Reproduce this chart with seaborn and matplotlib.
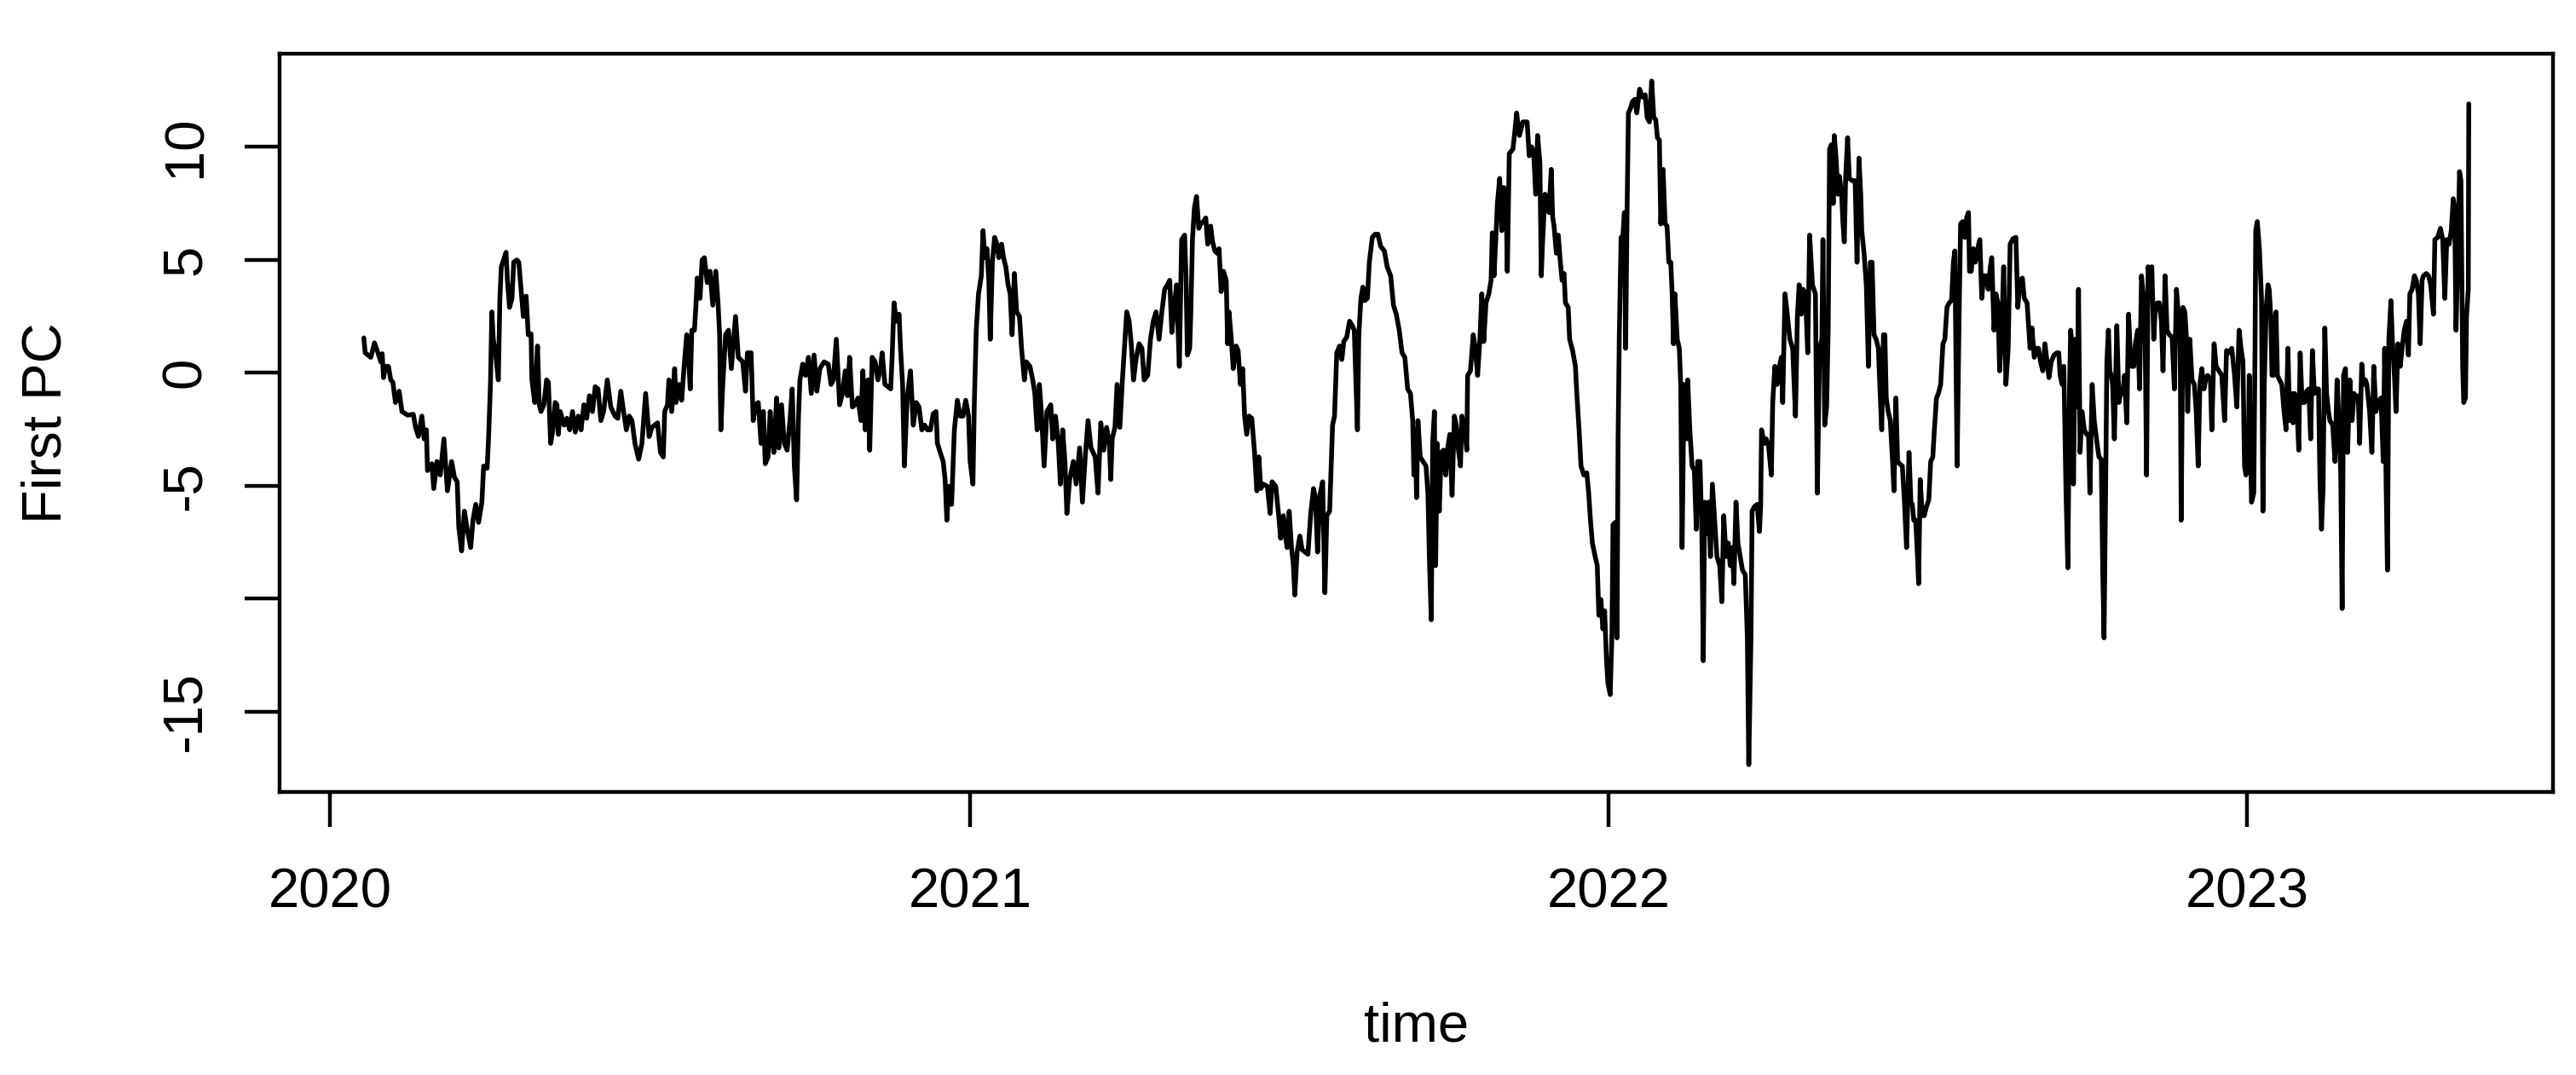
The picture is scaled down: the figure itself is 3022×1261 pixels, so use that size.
import numpy as np
import pandas as pd
import matplotlib
matplotlib.use("Agg")
import matplotlib.pyplot as plt
import seaborn as sns

# ---- data: days since 2020-01-01 and First PC values ----
days_1 = [19.5, 20.3, 23.5, 25.6, 27.6, 29.2, 30.0, 30.8, 31.9, 33.6,
          34.9, 36.1, 37.6, 39.7, 41.3, 44.6, 47.8, 49.1, 50.7, 52.7,
          54.0, 55.3, 55.9, 58.4, 59.5, 61.3, 63.2, 65.3, 67.3, 69.7,
          71.3, 72.9, 73.8, 75.4, 77.0, 78.6, 80.6, 81.9, 83.5, 85.1,
          87.0, 88.0, 90.0, 90.8, 91.9, 92.7, 93.5, 94.8, 96.4, 97.3,
          98.1, 99.4, 100.8, 101.6, 102.8, 104.2, 105.2, 107.0, 108.1, 109.4,
          110.7, 112.3, 113.5, 115.1, 115.6, 117.2, 118.8, 119.8, 120.8, 122.4,
          124.0, 125.0, 126.3, 127.6, 128.9]
pc_1 = [1.54, 0.88, 0.68, 1.32, 0.88, 0.48, 0.84, -0.22, 0.28, 0.28,
        -0.32, -0.42, -1.32, -0.82, -1.72, -1.88, -1.84, -2.42, -2.82, -1.92,
        -2.93, -2.53, -4.33, -4.03, -5.13, -3.93, -4.53, -2.93, -5.23, -3.93,
        -4.63, -4.83, -6.83, -7.89, -6.13, -6.93, -7.74, -6.53, -5.83, -6.63,
        -5.73, -4.13, -4.23, -2.93, -0.52, 2.69, 1.48, 0.88, -0.32, 3.29,
        4.69, 4.99, 5.33, 4.09, 2.89, 3.29, 4.89, 4.99, 4.89, 3.69,
        2.49, 3.39, 1.68, 1.72, -0.32, -1.32, 1.18, -1.42, -1.72, -1.42,
        -0.32, -0.42, -3.13, -2.53, -1.32]

days_2 = [129.9, 130.7, 131.8, 134.0, 135.6, 137.2, 138.8, 140.4, 142.1, 143.7,
          145.3, 146.9, 148.5, 150.2, 151.8, 153.4, 155.0, 156.6, 158.7, 160.7,
          163.1, 164.7, 166.4, 168.0, 169.6, 171.2, 172.8, 174.5, 176.6, 178.5,
          180.6, 182.6, 184.2, 185.8, 187.4, 189.1, 190.7, 191.5, 193.1, 193.9,
          195.5, 197.2, 198.0, 199.6, 201.2, 202.8, 204.1, 205.3, 206.1, 207.0,
          208.5, 209.3, 210.1, 211.7, 212.9, 214.2, 215.8, 217.4, 219.0, 220.7,
          222.0, 222.9, 223.6, 224.7, 226.3, 228.0, 229.6, 232.0, 233.6, 236.1,
          237.7, 238.8, 240.9, 242.1, 243.4, 245.0, 246.6, 247.9, 249.0, 250.6,
          251.8]
pc_2 = [-1.42, -2.73, -1.72, -2.32, -2.02, -2.53, -1.72, -2.63, -1.92, -2.53,
        -1.42, -2.02, -1.02, -1.72, -0.62, -0.72, -2.12, -1.72, -0.32, -1.52,
        -1.92, -2.02, -0.82, -1.72, -2.53, -1.92, -2.12, -3.13, -3.83, -3.13,
        -0.92, -2.83, -2.42, -2.32, -2.22, -3.53, -3.73, -1.72, -1.42, -0.32,
        -1.72, 0.18, -1.32, -0.52, -1.22, 0.48, 1.68, 0.48, -0.72, 1.88,
        1.88, 2.89, 4.19, 3.29, 4.99, 5.09, 3.99, 4.49, 2.99, 4.49,
        3.09, 1.68, -2.53, -0.52, 1.68, 1.88, 0.18, 2.49, 0.68, 0.48,
        -0.82, 0.88, 0.88, -2.12, -1.42, -1.32, -3.13, -1.72, -4.03, -3.73,
        -1.72]

days_3 = [252.6, 253.9, 255.5, 256.7, 258.3, 259.9, 261.5, 263.1, 264.4, 265.6,
          266.9, 268.0, 268.8, 270.4, 272.0, 273.7, 275.3, 276.9, 278.5, 280.2,
          282.6, 285.0, 286.6, 287.9, 289.6, 291.5, 293.1, 294.7, 296.0, 297.2,
          298.8, 300.4, 302.0, 303.7, 304.8, 306.1, 307.7, 308.7, 310.1, 311.8,
          313.4, 315.0, 315.8, 317.4, 319.1, 320.7, 321.5, 322.6, 323.9, 325.5,
          326.3, 327.5, 328.5, 330.1, 332.0, 333.6, 335.3, 336.9, 338.5, 340.1,
          341.7, 343.4, 345.0, 346.6, 347.4, 349.0, 350.7, 351.8, 352.8, 353.9,
          355.5, 357.1, 358.8, 360.4, 362.0, 363.6, 365.2, 366.1, 367.7, 368.5,
          369.6, 370.9, 372.5, 373.5, 374.5]
pc_3 = [-2.53, -3.53, -1.12, -3.33, -1.42, -3.13, -3.43, -2.12, -0.72, -4.13,
        -5.63, -1.92, -0.32, 0.38, -0.12, 0.68, -0.92, 0.78, -0.82, 0.18,
        0.48, 0.38, -0.52, -0.32, 1.48, -1.42, -0.92, 0.08, -1.02, 0.68,
        -1.52, -1.42, -1.12, -2.12, 0.08, -2.53, -0.32, -3.43, 0.68, 0.48,
        -0.32, 0.28, 0.88, -0.52, -0.62, -0.72, 0.68, 3.09, 2.28, 2.59,
        1.08, -0.52, -4.13, -1.12, 0.08, -2.32, -1.32, -1.52, -2.53, -2.32,
        -2.53, -2.53, -1.82, -1.72, -3.13, -3.53, -3.93, -4.73, -6.53, -5.03,
        -5.83, -2.53, -1.22, -1.92, -1.92, -1.22, -1.92, -3.93, -4.93, -1.32,
        1.88, 3.49, 4.29, 6.29, 5.09]

days_4 = [375.7, 376.8, 377.6, 378.8, 380.1, 381.4, 382.5, 384.1, 385.2, 386.5,
          387.8, 389.0, 390.1, 391.4, 392.7, 394.3, 395.5, 397.1, 398.2, 400.3,
          401.9, 403.1, 404.4, 405.7, 406.8, 408.4, 410.0, 412.2, 413.3, 414.9,
          416.5, 417.7, 419.0, 420.3, 421.4, 423.0, 425.1, 426.7, 428.7, 430.3,
          431.9, 433.5, 435.2, 437.6, 439.2, 440.8, 442.5, 444.1, 445.7, 446.5,
          447.3, 448.9, 450.1, 451.7, 453.0, 454.6, 455.6, 457.0, 458.2, 459.5,
          461.1, 462.7, 464.3, 465.6, 467.6, 469.2, 470.8, 472.4, 474.1, 475.7,
          477.3, 478.9, 480.2, 481.4, 483.0, 484.1, 485.7, 487.0, 488.7, 489.5,
          490.3, 491.6, 492.2, 493.2, 494.3, 495.5, 496.8]
pc_4 = [5.49, 4.09, 1.48, 4.89, 5.99, 5.69, 5.09, 5.69, 5.09, 4.69,
        3.89, 3.49, 1.68, 4.39, 2.69, 2.49, 1.08, -0.32, 0.48, 0.28,
        -0.32, -0.92, -2.53, -0.52, -1.72, -4.13, -1.72, -1.42, -2.93, -1.92,
        -3.13, -4.93, -2.53, -3.93, -6.23, -4.73, -3.93, -4.93, -3.33, -5.73,
        -3.73, -2.12, -3.33, -3.73, -5.33, -2.22, -3.43, -2.42, -3.13, -4.73,
        -2.93, -2.42, -0.52, -2.42, -0.52, 1.48, 2.69, 2.28, 1.28, -0.32,
        0.68, 1.28, 1.08, -0.32, -0.12, 1.48, 2.28, 2.69, 1.48, 2.69,
        3.69, 3.89, 4.09, 1.78, 3.09, 3.89, 0.28, 5.89, 6.09, 4.29,
        0.78, 1.08, 2.49, 5.89, 7.29, 7.80, 6.39]

days_5 = [497.9, 499.5, 500.8, 501.9, 503.6, 504.7, 506.0, 507.3, 508.4, 509.6,
          510.9, 512.5, 513.3, 514.1, 515.4, 516.5, 518.2, 519.3, 520.6, 521.9,
          523.0, 524.2, 525.5, 527.1, 528.7, 530.0, 531.1, 532.3, 533.6, 536.0,
          537.6, 538.7, 540.8, 542.5, 543.6, 545.2, 546.5, 547.3, 548.5, 549.8,
          550.9, 551.7, 553.0, 554.6, 555.9, 557.5, 559.2, 560.8, 562.4, 563.5,
          564.7, 566.0, 567.6, 568.9, 570.0, 571.6, 572.5, 573.3, 574.4, 575.7,
          577.3, 578.6, 579.7, 581.4, 583.0, 584.6, 585.7, 586.7, 587.5, 588.3,
          589.5, 590.6, 591.6, 593.2, 594.3, 596.0, 597.6, 599.2, 600.8, 602.9,
          604.5, 606.5, 608.1, 609.7, 611.4, 613.0, 614.6, 616.2, 617.8, 619.1,
          619.8]
pc_5 = [6.59, 6.69, 6.85, 5.69, 6.49, 5.79, 5.39, 5.29, 5.49, 3.59,
        4.49, 4.09, 1.28, 2.69, 1.48, 0.18, 1.18, 0.98, -0.52, 0.18,
        -1.92, -2.73, -1.92, -2.02, -3.53, -5.23, -3.73, -5.13, -4.93, -5.03,
        -6.23, -4.83, -5.03, -6.33, -7.33, -6.33, -7.33, -7.74, -6.13, -7.74,
        -8.54, -9.84, -7.94, -7.23, -7.84, -7.94, -8.04, -6.23, -5.13, -5.53,
        -7.94, -5.43, -4.83, -9.74, -6.33, -6.13, -4.13, -2.32, -1.92, 0.88,
        1.18, 0.58, 1.38, 1.58, 2.28, 2.08, 1.88, -0.52, -2.53, 1.68,
        3.29, 3.79, 3.19, 3.29, 4.89, 5.99, 6.13, 6.13, 5.59, 5.39,
        4.69, 4.29, 2.99, 2.59, 1.88, 0.88, 0.68, -0.72, -0.92, -2.12,
        -4.53]

days_6 = [620.5, 621.3, 622.1, 623.4, 625.0, 626.7, 627.8, 628.6, 629.7, 630.5,
          631.5, 632.2, 633.1, 634.3, 635.4, 636.7, 638.0, 639.1, 640.3, 641.6,
          642.9, 644.0, 645.1, 646.4, 647.2, 648.9, 650.0, 650.5, 652.1, 653.7,
          654.9, 656.2, 657.5, 658.6, 659.7, 661.0, 662.6, 663.9, 664.6, 665.6,
          666.7, 667.5, 668.8, 670.0, 671.1, 672.4, 673.2, 674.3, 676.4, 677.5,
          678.5, 680.1, 682.1, 684.5, 685.7, 687.0, 688.2, 689.4, 690.5, 691.8,
          692.6, 693.4, 694.7, 695.9, 697.0, 698.3, 699.1, 699.9, 701.2, 702.3,
          703.5, 704.5, 705.6, 706.4, 708.0, 708.8, 710.5, 712.1, 712.9, 714.2,
          715.3, 716.9, 718.6, 719.7, 720.7, 721.8, 723.4, 724.6, 725.5, 726.7,
          727.8, 728.8, 729.9, 730.7, 732.0, 733.0, 733.6, 734.8, 735.9, 736.5,
          737.2, 738.2, 738.8, 740.1, 740.8, 741.7, 742.4]
pc_6 = [-2.53, -5.53, -2.12, -3.73, -3.93, -4.13, -5.33, -8.14, -10.94, -3.13,
        -1.72, -8.54, -3.13, -6.13, -3.53, -3.43, -4.53, -3.33, -2.73, -5.43,
        -1.92, -2.32, -3.33, -4.13, -1.92, -2.53, -3.43, -0.12, 0.08, 1.68,
        1.08, -0.12, 1.48, 3.49, 1.38, 3.09, 3.49, 4.09, 6.19, 4.29,
        6.09, 7.49, 8.60, 6.29, 8.20, 8.10, 4.49, 9.70, 9.90, 10.70,
        11.50, 10.50, 11.10, 11.10, 9.60, 10.00, 9.80, 7.90, 10.50, 9.30,
        4.29, 5.89, 7.90, 7.80, 7.09, 9.00, 6.89, 6.49, 5.29, 6.09,
        4.89, 4.09, 4.39, 3.09, 2.89, 1.48, 0.98, 0.28, -0.92, -2.53,
        -4.13, -4.53, -4.43, -5.33, -6.53, -7.54, -8.14, -8.54, -10.74, -10.04,
        -11.34, -10.54, -12.75, -13.75, -14.25, -11.54, -6.73, -6.63, -11.74, -2.93,
        1.68, 5.99, 5.49, 7.09, 1.08, 7.49, 11.50]

days_7 = [743.6, 744.7, 746.0, 747.2, 748.8, 750.4, 752.0, 753.1, 754.4,
          755.7, 756.9, 758.0, 759.0, 760.1, 760.9, 762.2, 763.4, 764.5, 765.5,
          766.6, 767.4, 768.2, 769.0, 770.3, 771.5, 772.3, 773.1, 774.2, 775.5,
          776.3, 777.5, 778.8, 780.1, 781.2, 782.0, 783.3, 784.4, 785.2, 786.0,
          787.2, 788.2, 789.3, 790.4, 791.7, 793.0, 794.6, 795.8, 796.9, 798.2,
          799.5, 800.6, 801.8, 802.7, 803.9, 805.0, 806.3, 807.6, 809.2, 810.4,
          811.2, 812.5, 813.1, 814.4, 816.0, 817.3, 818.0, 818.5, 820.1, 821.2,
          822.5, 824.1, 824.9, 826.1, 827.4, 828.2, 829.8, 830.6, 831.9, 833.1,
          834.7, 836.3, 837.9, 839.0, 840.0, 841.2, 842.3, 843.6, 844.9, 846.0,
          847.6, 849.3, 850.4, 851.7, 853.0, 853.6, 854.6, 855.7, 856.6, 857.4,
          858.5, 859.5, 860.1, 861.1, 862.2, 863.0, 864.3, 865.0]
pc_7 = [11.70, 12.00, 12.10, 11.50, 12.55, 12.20, 12.30, 11.30, 11.10,
        12.91, 11.30, 11.20, 10.40, 10.30, 6.59, 9.00, 6.59, 6.49, 4.89,
        4.89, 3.49, 1.28, 3.49, 1.48, 1.08, -0.52, -7.74, -0.52, -2.93,
        -0.32, -2.53, -4.13, -4.33, -6.93, -3.93, -3.93, -7.13, -12.75, -5.73,
        -7.13, -5.73, -8.14, -4.93, -6.53, -8.14, -8.54, -10.14, -6.33, -8.14,
        -7.54, -8.54, -7.74, -9.34, -5.73, -7.54, -8.14, -8.74, -8.94, -11.74,
        -17.35, -11.54, -6.13, -5.93, -5.83, -7.03, -5.93, -2.53, -3.13, -2.93,
        -3.23, -4.53, -1.32, 0.28, -0.52, 0.08, 0.68, -1.32, 3.49, 2.69,
        1.48, 1.08, -1.92, 2.49, 3.89, 2.59, 3.69, 3.49, 0.88, 6.09,
        3.89, 3.49, -5.33, 1.08, 1.48, 5.89, -2.32, -1.52, 1.88, 9.90,
        10.10, 7.49, 10.50, 9.50, 7.90, 8.70, 7.90, 6.69]

days_8 = [865.8, 866.6, 867.7, 868.7, 870.3, 872.0, 873.1, 874.2, 875.2, 875.8,
          877.1, 878.4, 879.6, 880.7, 881.7, 882.8, 884.0, 885.3, 886.1, 887.2,
          888.2, 889.0, 889.8, 890.9, 892.1, 893.4, 894.2, 895.3, 896.3, 897.4,
          899.0, 900.2, 901.4, 902.8, 903.9, 904.7, 905.5, 906.6, 907.6, 908.3,
          909.2, 910.4, 911.5, 912.8, 914.1, 915.2, 916.4, 917.3, 918.5, 919.6,
          920.9, 922.2, 923.3, 924.5, 925.8, 927.1, 928.2, 929.0, 930.3, 931.4,
          932.3, 933.5, 934.7, 935.8, 936.8, 937.4, 938.4, 939.5, 940.7, 942.0,
          943.3, 944.4, 945.5, 946.8, 948.1, 949.3, 950.1, 951.4, 952.5, 953.6,
          954.6, 955.8, 956.9, 958.2, 959.5, 960.6, 962.2, 963.9, 965.0, 966.3,
          967.6, 968.7, 970.3, 972.0, 973.1, 974.4, 975.7, 976.8, 978.0, 979.3,
          980.5, 981.7, 982.8, 984.1, 985.7, 987.4]
pc_8 = [5.79, 8.70, 10.40, 8.60, 8.50, 8.50, 4.89, 9.50, 7.90, 6.29,
        5.29, 3.89, 0.28, 4.89, 4.89, 1.68, 1.48, 1.08, -0.52, -2.53,
        1.68, 1.68, -1.12, -1.72, -2.12, -3.93, -5.23, -1.12, -3.93, -4.03,
        -4.13, -5.73, -7.74, -3.53, -5.73, -5.83, -6.53, -6.53, -8.04, -9.34,
        -4.73, -6.33, -6.33, -5.93, -5.63, -3.93, -3.73, -2.53, -1.12, -0.92,
        -0.52, 1.28, 1.48, 2.89, 3.09, 3.19, 4.89, 5.39, -4.13, 2.28,
        6.59, 6.69, 5.99, 6.89, 7.09, 4.49, 4.49, 5.49, 4.89, 5.49,
        5.89, 3.29, 4.29, 4.29, 3.69, 4.69, 5.09, 1.88, 3.49, 3.09,
        0.08, 1.88, 4.69, -0.52, 1.08, 5.69, 5.93, 5.99, 2.89, 4.09,
        4.19, 3.29, 3.09, 1.08, 1.98, 0.68, 1.08, 1.08, 0.48, 0.08,
        1.28, 0.48, -0.22, 0.48, 0.78, 0.88]

days_9 = [988.4, 989.2, 990.3, 991.3, 992.5, 993.6, 994.6, 995.2, 996.2, 996.8,
          997.8, 998.9, 999.7, 1000.6, 1001.7, 1003.0, 1004.3, 1005.4, 1006.2, 1007.5,
          1008.7, 1010.3, 1011.4, 1012.7, 1013.5, 1014.3, 1015.1, 1015.9, 1016.8, 1017.6,
          1018.4, 1019.2, 1020.2, 1021.6, 1022.8, 1023.7, 1024.9, 1026.0, 1027.3, 1028.3,
          1029.2, 1030.2, 1031.3, 1032.2, 1033.5, 1034.6, 1035.7, 1036.7, 1037.8, 1038.6,
          1039.5, 1040.6, 1041.6, 1042.7, 1043.5, 1044.8, 1045.9, 1047.1, 1048.0, 1049.2,
          1050.3, 1051.6, 1053.2, 1054.5, 1055.7, 1056.5, 1057.8, 1058.4, 1059.4, 1060.5,
          1061.3, 1062.1, 1063.3, 1064.6, 1065.9, 1067.0, 1068.1, 1069.1, 1070.2, 1071.4,
          1072.4, 1073.5, 1075.1, 1075.9, 1077.2, 1078.4, 1080.0, 1081.6, 1083.2, 1084.3,
          1085.6, 1087.3, 1088.9, 1090.2, 1091.5, 1092.6, 1093.7, 1094.6, 1095.4, 1096.7,
          1097.3, 1098.6, 1099.9, 1100.6, 1101.0, 1101.9, 1103.1, 1104.3, 1105.1, 1105.9,
          1107.0, 1108.0, 1108.7, 1109.6, 1110.3]
pc_9 = [0.88, -0.12, -0.52, 0.28, -5.13, -8.64, -0.52, 1.88, 1.08, -4.93,
        1.48, -1.52, 3.69, -3.53, -1.72, -2.53, -2.73, -2.73, -5.33, -0.52,
        -2.12, -3.13, -3.73, -3.83, -8.54, -11.74, -5.93, 0.48, 1.88, 0.08,
        -0.12, -0.52, -2.93, 2.08, -1.32, -0.92, -0.92, -0.12, -2.22, 2.59,
        1.08, 0.28, 0.28, 1.28, 1.88, -0.72, 4.29, 3.49, 1.48, -4.53,
        4.69, 4.29, 4.69, 1.48, 2.69, 3.09, 3.09, 2.28, 0.08, 4.29,
        1.88, 1.68, 1.58, -0.72, 3.69, 2.89, 1.48, -6.53, 2.89, 2.69,
        1.68, -1.72, 1.48, -0.32, -0.52, -1.72, -4.13, -0.52, 0.18, -0.72,
        -0.32, -0.12, -0.32, -2.53, 1.28, 0.28, 0.08, -0.12, -2.12, 0.98,
        0.88, 1.08, -0.12, -1.52, 1.88, 1.08, 0.48, -4.13, -4.53, -3.93,
        -0.12, -5.73, -5.33, 1.08, 6.29, 6.69, 5.49, 3.29, -6.13, -0.52,
        2.89, 3.89, 3.69, 2.49, -0.12]

days_10 = [1111.0, 1111.8, 1112.6, 1113.4, 1114.6, 1115.9, 1117.2, 1118.3, 1119.4, 1120.4,
           1121.5, 1122.3, 1123.2, 1124.3, 1125.6, 1126.4, 1127.5, 1128.8, 1130.1, 1131.3,
           1132.4, 1133.4, 1134.5, 1135.6, 1136.9, 1137.7, 1138.6, 1139.5, 1140.5, 1141.5,
           1142.6, 1143.4, 1145.0, 1146.3, 1147.5, 1148.6, 1149.6, 1150.4, 1151.2, 1152.3,
           1153.5, 1154.8, 1156.1, 1157.2, 1158.3, 1159.6, 1160.4, 1161.6, 1162.5, 1163.7,
           1164.5, 1166.1, 1167.4, 1168.5, 1169.7, 1171.0, 1172.6, 1173.9, 1174.7, 1175.5,
           1176.3, 1177.1, 1178.3, 1179.1, 1180.4, 1181.2, 1182.3, 1183.6, 1184.7, 1185.9,
           1187.2, 1188.3, 1189.1, 1190.4, 1191.7, 1192.8, 1194.0, 1195.0, 1196.1, 1196.9,
           1198.5, 1199.8, 1201.0, 1202.6, 1203.4, 1205.0, 1206.6, 1207.9, 1209.1, 1210.2,
           1211.5, 1212.8, 1213.9, 1214.7, 1215.5, 1216.3, 1217.5, 1218.3, 1218.8, 1219.3,
           1219.9, 1220.9, 1221.5, 1222.5, 1222.8]
pc_10 = [-0.12, 2.28, 2.69, -0.12, -0.32, -0.52, -1.72, -2.53, 1.08, -2.12,
         -0.92, -2.22, -0.92, -1.12, -3.43, 0.88, -1.32, -1.32, -0.82, -0.72,
         -2.93, 0.98, -0.92, -0.72, -0.72, -4.73, -6.93, -5.13, 1.98, -0.92,
         -1.72, -2.12, -2.32, -3.93, -0.32, -2.12, -4.53, -10.44, -0.12, 0.18,
         -3.53, -0.32, -2.12, -0.92, -1.12, -1.02, -3.13, 0.38, -0.52, -0.32,
         -0.52, -1.72, -3.53, 0.28, -1.72, -1.32, -1.12, -3.93, 1.08, -4.73,
         -8.74, 1.48, 3.19, 1.48, -0.32, -1.72, 1.28, 0.28, 1.08, 1.88,
         2.28, 0.78, 3.49, 3.69, 4.29, 4.09, 3.49, 1.28, 4.09, 4.29,
         4.39, 4.29, 3.89, 2.59, 5.89, 5.99, 6.39, 5.89, 3.29, 5.89,
         5.69, 6.29, 7.70, 7.29, 1.88, 4.49, 8.90, 8.50, 4.49, 0.28,
         -1.32, -1.12, 2.49, 3.69, 11.90]

year_labels = ["2020", "2021", "2022", "2023"]
y_tick_values = [-15, -10, -5, 0, 5, 10]
y_tick_labels = ["-15", "", "-5", "0", "5", "10"]
x_title = "time"
y_title = "First PC"

# ---- assemble ----
day_parts = [days_1, days_2, days_3, days_4, days_5, days_6, days_7, days_8, days_9, days_10]
pc_parts = [pc_1, pc_2, pc_3, pc_4, pc_5, pc_6, pc_7, pc_8, pc_9, pc_10]
for i, (d, p) in enumerate(zip(day_parts, pc_parts)):
    assert len(d) == len(p), (i + 1, len(d), len(p))
days = np.concatenate(day_parts)
pc = np.concatenate(pc_parts)
dates = pd.Timestamp("2020-01-01") + pd.to_timedelta(days, unit="D")
df = pd.DataFrame({"time": dates, "First PC": pc})

sns.set_style("white")
plt.rcParams["font.family"] = ["Liberation Sans", "DejaVu Sans"]

fig = plt.figure(figsize=(15.11, 6.305), dpi=200)
ax = fig.add_axes([0.10854, 0.26328, 0.88253, 0.68676])

sns.lineplot(data=df, x="time", y="First PC", color="black", linewidth=2.0,
             estimator=None, sort=False, ax=ax, solid_joinstyle="round")

# R-style 4% axis padding
t0, t1 = df["time"].min(), df["time"].max()
span_t = t1 - t0
ax.set_xlim(t0 - 0.04 * span_t, t1 + 0.04 * span_t)
v0, v1 = df["First PC"].min(), df["First PC"].max()
span_v = v1 - v0
ax.set_ylim(v0 - 0.04 * span_v, v1 + 0.04 * span_v)

ax.set_xticks([pd.Timestamp(f"{y}-01-01") for y in year_labels])
ax.set_xticklabels(year_labels)
ax.set_yticks(y_tick_values)
ax.set_yticklabels(y_tick_labels)

for side in ["top", "bottom", "left", "right"]:
    ax.spines[side].set_visible(True)
    ax.spines[side].set_color("black")
    ax.spines[side].set_linewidth(1.6)

ax.tick_params(axis="both", which="major", direction="out", length=14.8, width=1.6,
               color="black", labelcolor="black", labelsize=23.5, bottom=True, left=True)
ax.tick_params(axis="x", pad=17)
ax.tick_params(axis="y", pad=14, labelrotation=90)
for lab in ax.get_yticklabels():
    lab.set_verticalalignment("center")

ax.set_xlabel(x_title, fontsize=23.5, color="black", va="center")
ax.xaxis.set_label_coords(0.5, -0.3176)
ax.set_ylabel(y_title, fontsize=23.5, color="black", va="center")
ax.yaxis.set_label_coords(-0.1027, 0.5)

fig.savefig("out.png", dpi=200, facecolor="white")
